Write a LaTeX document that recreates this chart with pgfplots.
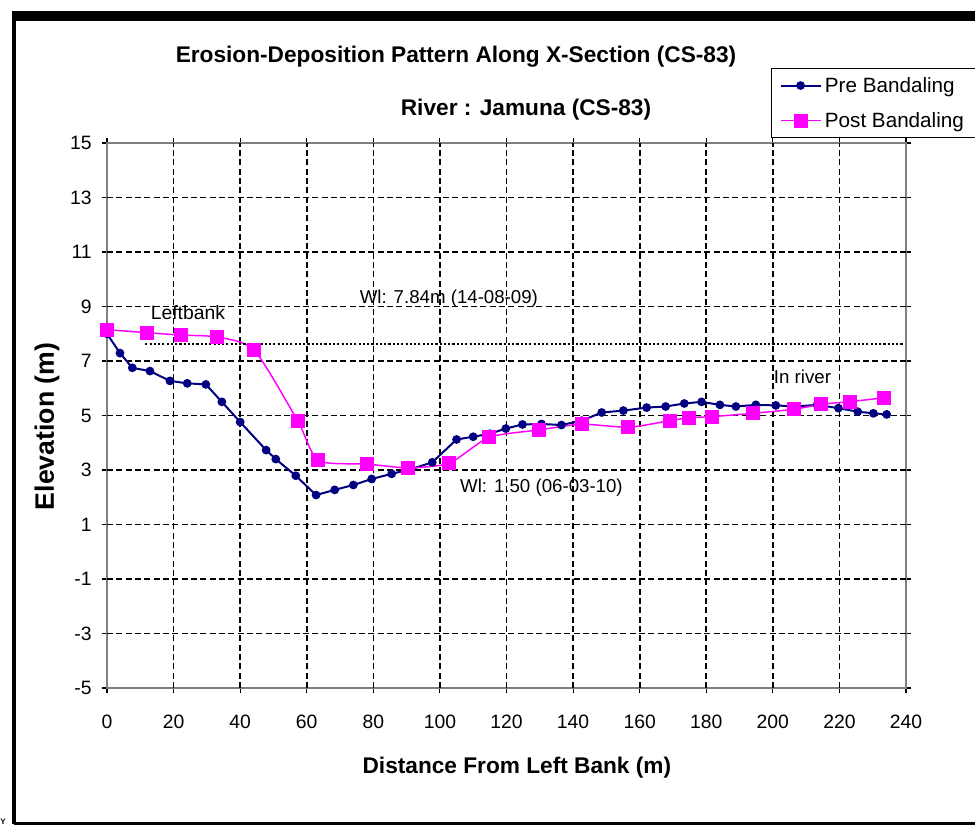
\documentclass[border=0pt]{standalone}
\usepackage{fontspec}
\setmainfont{Liberation Sans}
\usepackage{pgfplots}
\pgfplotsset{compat=1.18}
\definecolor{preblue}{RGB}{0,0,128}
\definecolor{postmag}{RGB}{255,0,255}
\definecolor{framegray}{RGB}{128,128,128}
\begin{document}
\begin{tikzpicture}[x=0.75pt,y=0.75pt]
\path[use as bounding box] (0,0) rectangle (975,825);
% outer frame
\draw[black,line width=3pt] (14,1.5) -- (14,806) -- (990,806);
\fill[black] (12,805) rectangle (990,814);
\draw[black,line width=1.5pt] (14,1.5) -- (990,1.5);
\node[font=\fontsize{6}{7}\selectfont\bfseries, inner sep=0pt, anchor=south west] at (0,0) {Y};
\node[font=\fontsize{17}{20}\selectfont\bfseries] at (456,768) {Erosion-Deposition Pattern Along X-Section (CS-83)};
\node[font=\fontsize{17}{20}\selectfont\bfseries] at (526,715) {River : Jamuna (CS-83)};
\begin{axis}[
  at={(80.25pt,102.75pt)}, anchor=south west,
  scale only axis, width=599.25pt, height=408.75pt,
  xmin=0, xmax=240, ymin=-5, ymax=15,
  xtick={0,20,...,240}, ytick={-5,-3,...,15},
  extra x ticks={20,40,...,220}, extra y ticks={-3,-1,...,13},
  extra x tick labels={}, extra y tick labels={},
  extra tick style={grid=major, major tick length=0pt},
  major grid style={black, line width=1.25pt, dash pattern=on 4.5pt off 2.5pt},
  axis line style={framegray, line width=2.2pt},
  tick style={black, line width=0.8pt}, tick align=outside, major tick length=4pt,
  /pgf/number format/assume math mode=true,
  ticklabel style={font=\fontsize{14.5}{17}\selectfont},
  xticklabel style={yshift=-13pt},
  yticklabel style={xshift=-4pt},
  xlabel={Distance From Left Bank (m)},
  ylabel={Elevation (m)},
  xlabel style={font=\fontsize{17}{20}\selectfont\bfseries, at={(rel axis cs:0.513,-0.147)}, anchor=center},
  ylabel style={font=\fontsize{20}{24}\selectfont\bfseries, at={(rel axis cs:-0.075,0.48)}, anchor=center},
  legend style={at={(rel axis cs:0.831,1.138)}, anchor=north west, draw=black, line width=0.9pt, fill=white,
    font=\fontsize{15.5}{18}\selectfont, inner xsep=6pt, inner ysep=4pt, row sep=8.5pt,
    nodes={inner sep=2.5pt}},
  legend cell align=left,
  legend image code/.code={\draw[mark repeat=2,mark phase=2] plot coordinates {(0pt,0pt) (15pt,0pt) (30pt,0pt)};},
  clip=false,
]
\addplot[preblue, line width=1.5pt, mark=*, mark size=2.5pt, mark options={fill=preblue, draw=preblue}]
coordinates {
(0,8.0) (3.9,7.29) (7.6,6.75) (12.9,6.63) (18.9,6.27) (24.1,6.18) (29.7,6.14) (34.5,5.50)
(40.0,4.76) (47.8,3.73) (50.7,3.40) (56.7,2.79) (62.8,2.08) (68.4,2.27) (74.0,2.45) (79.5,2.67)
(85.5,2.86) (91.0,3.02) (97.7,3.28) (105.0,4.12) (110.0,4.22) (115.0,4.33) (119.8,4.52) (124.8,4.67)
(130.5,4.69) (136.5,4.65) (142.6,4.81) (148.6,5.11) (155.1,5.18) (162.1,5.29) (167.8,5.33) (173.4,5.44)
(178.6,5.50) (184.1,5.39) (188.9,5.33) (194.9,5.39) (200.9,5.37) (206.8,5.33) (213.3,5.39) (219.7,5.27)
(225.5,5.14) (230.2,5.08) (234.2,5.04)
};
\addlegendentry{Pre Bandaling}
\addplot[postmag, line width=1.1pt, smooth, tension=0.4, mark=square*, mark size=4.7pt, mark options={fill=postmag, draw=postmag, solid}]
coordinates {
(0,8.15) (11.9,8.04) (22.2,7.95) (33.1,7.88) (44.2,7.40) (57.3,4.80) (63.5,3.35) (78.0,3.22)
(90.3,3.08) (102.8,3.25) (114.8,4.20) (129.8,4.47) (142.6,4.68) (156.6,4.57) (169.1,4.81) (174.9,4.92)
(181.8,4.96) (194.1,5.08) (206.4,5.23) (214.5,5.41) (223.2,5.51) (233.5,5.65)
};
\addlegendentry{Post Bandaling}
\addplot[black, line width=1.6pt, dash pattern=on 1.6pt off 1.6pt, forget plot]
coordinates {(11.5,7.62) (239.5,7.62)};
\node[font=\fontsize{14.5}{17}\selectfont] at (axis cs:24.3,8.76) {Leftbank};
\node[font=\fontsize{14}{17}\selectfont] at (axis cs:102.7,9.28) {Wl: 7.84m (14-08-09)};
\node[font=\fontsize{14}{17}\selectfont] at (axis cs:130.5,2.34) {Wl: 1.50 (06-03-10)};
\node[font=\fontsize{14}{17}\selectfont] at (axis cs:208.9,6.42) {In river};
\end{axis}
\end{tikzpicture}
\end{document}
